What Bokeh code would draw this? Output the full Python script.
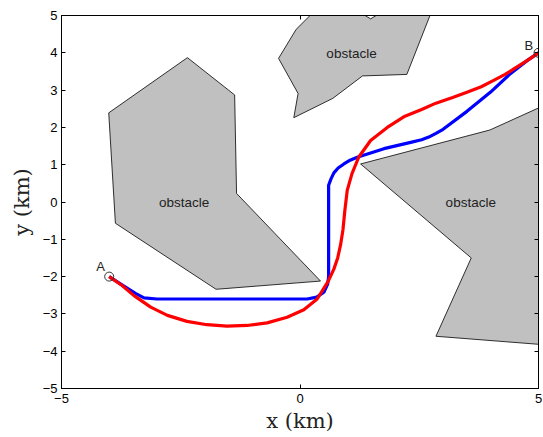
from bokeh.plotting import figure
from bokeh.models import LinearAxis, FixedTicker, Range1d, CustomJSTickFormatter
from bokeh.embed import file_html
from bokeh.resources import INLINE

# ---- data ----
obs_left_x = [-4.01, -2.36, -1.37, -1.33, 0.43, -1.76, -3.87]
obs_left_y = [2.39, 3.87, 2.87, 0.23, -2.12, -2.34, -0.57]

obs_top_x = [-0.45, -0.08, 0.25, 1.30, 1.48, 1.66, 2.74, 2.24, 1.31, 0.69, -0.13, -0.04]
obs_top_y = [3.85, 4.63, 5.05, 5.05, 4.91, 5.05, 5.05, 3.42, 3.38, 2.78, 2.26, 2.91]

obs_right_x = [1.27, 3.98, 5.05, 5.05, 2.85, 3.59]
obs_right_y = [1.02, 1.93, 2.55, -3.82, -3.60, -1.50]

label_x = [1.08, -2.43, 3.58]
label_y = [3.98, 0.0, 0.0]
label_text = ["obstacle", "obstacle", "obstacle"]

blue_x = [-4.0, -3.7, -3.45, -3.27, -3.0, 0.0, 0.15, 0.35, 0.5, 0.58, 0.6, 0.6, 0.65, 0.71,
          0.8, 0.92, 1.05, 1.2, 1.76, 2.32, 2.55, 2.7, 2.85, 3.0, 3.5, 3.99, 4.41, 4.76, 5.0]
blue_y = [-2.0, -2.25, -2.45, -2.57, -2.6, -2.6, -2.6, -2.55, -2.42, -2.2, -2.0, 0.45, 0.62, 0.78,
          0.91, 1.02, 1.12, 1.2, 1.43, 1.60, 1.67, 1.74, 1.84, 1.95, 2.43, 2.94, 3.44, 3.79, 4.0]

red_x = [-4.0, -3.73, -3.48, -3.13, -2.78, -2.37, -1.95, -1.53, -1.11, -0.69, -0.27, 0.08, 0.36,
         0.58, 0.71, 0.79, 0.85, 0.9, 0.94, 0.99, 1.09, 1.23, 1.48, 1.83, 2.2, 2.55, 2.85, 3.2,
         3.5, 3.8, 4.06, 4.3, 4.5, 4.76, 5.0]
red_y = [-2.0, -2.24, -2.51, -2.82, -3.04, -3.20, -3.29, -3.33, -3.31, -3.24, -3.09, -2.89, -2.6,
         -2.15, -1.8, -1.5, -1.15, -0.75, -0.23, 0.31, 0.76, 1.20, 1.65, 2.0, 2.3, 2.48, 2.65, 2.8,
         2.94, 3.09, 3.26, 3.42, 3.58, 3.79, 4.0]

pts_x = [-4.0, 5.0]
pts_y = [-2.0, 4.0]
pts_name = ["A", "B"]
pts_lx = [-4.18, 4.80]
pts_ly = [-1.72, 4.20]

x_ticks = [-5, 0, 5]
y_ticks = [-5, -4, -3, -2, -1, 0, 1, 2, 3, 4, 5]


def lab(v):
    return ("\u2212" + str(-v)) if v < 0 else str(v)


p = figure(width=543, height=437, output_backend="svg", toolbar_location=None,
           x_range=Range1d(-5, 5), y_range=Range1d(-5, 5),
           min_border_left=61, min_border_right=5, min_border_top=15, min_border_bottom=49)
p.grid.visible = False
p.outline_line_color = "black"
p.outline_line_width = 1

p.patches([obs_left_x, obs_top_x, obs_right_x], [obs_left_y, obs_top_y, obs_right_y],
          fill_color="#c0c0c0", line_color="black", line_width=0.8)

p.text(label_x, label_y, text=label_text, text_align="center", text_baseline="middle",
       text_font_size="13.5px", text_color="#222222", text_font={"value": "Liberation Sans"})

p.line(blue_x, blue_y, line_color="blue", line_width=3.2, line_join="round")
p.line(red_x, red_y, line_color="red", line_width=3.2, line_join="round")

p.scatter(pts_x, pts_y, size=9, fill_color=None, line_color="#333333", line_width=1)
p.text(pts_lx, pts_ly, text=pts_name, text_align="center", text_baseline="middle",
       text_font_size="13px", text_color="#222222", text_font={"value": "Liberation Sans"})

# axes
for ax, ticks in ((p.xaxis[0], x_ticks), (p.yaxis[0], y_ticks)):
    ax.ticker = FixedTicker(ticks=ticks)
    ax.major_label_overrides = {t: lab(t) for t in ticks}
    ax.major_tick_in = 4
    ax.major_tick_out = 0
    ax.minor_tick_line_color = None
    ax.major_label_text_font = "Liberation Sans"
    ax.major_label_text_font_size = "13px"
    ax.major_label_text_color = "black"
    ax.axis_line_color = "black"
    ax.axis_label_text_font = "DejaVu Serif"
    ax.axis_label_text_font_size = "21px"
    ax.axis_label_text_font_style = "normal"
    ax.axis_label_text_color = "#222222"

p.xaxis[0].axis_label = "x (km)"
p.xaxis[0].axis_label_standoff = 3
p.xaxis[0].major_label_standoff = 5
p.yaxis[0].axis_label = "y (km)"
p.yaxis[0].axis_label_standoff = 6
p.yaxis[0].major_label_standoff = 4

blank = CustomJSTickFormatter(code="return ''")
top = LinearAxis(ticker=FixedTicker(ticks=x_ticks), major_tick_in=4, major_tick_out=0,
                 minor_tick_line_color=None, formatter=blank, axis_line_color="black")
right = LinearAxis(ticker=FixedTicker(ticks=y_ticks), major_tick_in=4, major_tick_out=0,
                   minor_tick_line_color=None, formatter=blank, axis_line_color="black")
p.add_layout(top, "above")
p.add_layout(right, "right")

open("out.html", "w").write(file_html(p, INLINE))
